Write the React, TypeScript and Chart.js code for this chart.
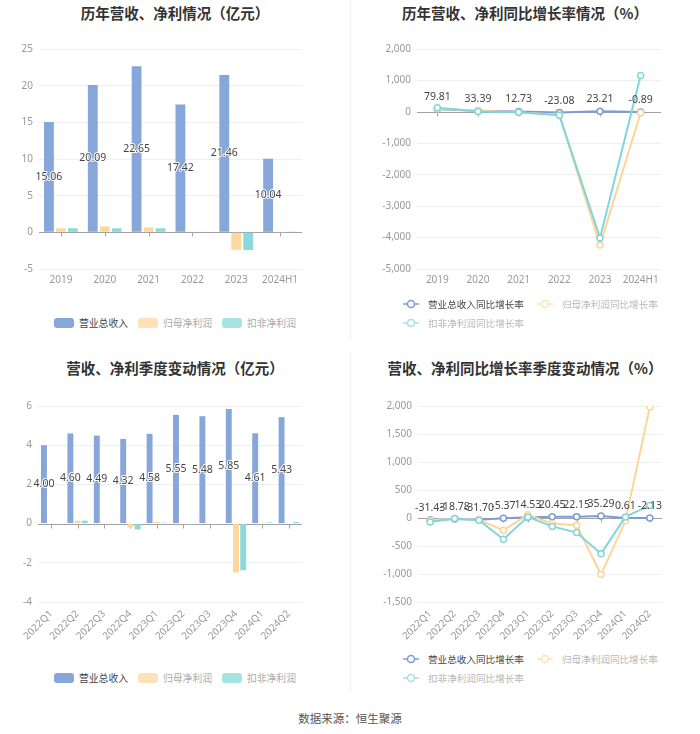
import React, { useEffect, useRef } from 'react';
import { Chart, registerables } from 'chart.js';

Chart.register(...registerables);

// ---------- data ----------
const yearCategories = ['2019', '2020', '2021', '2022', '2023', '2024H1'];
const yearRevenue = [15.06, 20.09, 22.65, 17.42, 21.46, 10.04];
const yearNetProfit = [0.55, 0.8, 0.68, 0.05, -2.37, 0.03];
const yearDeductedProfit = [0.55, 0.55, 0.55, 0.06, -2.42, 0.1];
const yearAmountTicks = [-5, 0, 5, 10, 15, 20, 25];

const yearRevenueGrowth = [79.81, 33.39, 12.73, -23.08, 23.21, -0.89];
const yearNetGrowth = [100, 40, -20, -90, -4240, -30];
const yearDeductedGrowth = [130, 10, -10, -110, -4010, 1160];
const yearGrowthTicks = [-5000, -4000, -3000, -2000, -1000, 0, 1000, 2000];

const quarterCategories = ['2022Q1', '2022Q2', '2022Q3', '2022Q4', '2023Q1', '2023Q2', '2023Q3', '2023Q4', '2024Q1', '2024Q2'];
const quarterRevenue = [4.0, 4.6, 4.49, 4.32, 4.58, 5.55, 5.48, 5.85, 4.61, 5.43];
const quarterNetProfit = [0.03, 0.15, 0.02, -0.2, 0.08, -0.02, -0.02, -2.49, 0.04, 0.02];
const quarterDeductedProfit = [0.03, 0.15, 0.02, -0.3, 0.05, -0.05, -0.03, -2.38, 0.06, 0.08];
const quarterAmountTicks = [-4, -2, 0, 2, 4, 6];

const quarterRevenueGrowth = [-31.43, -18.78, -31.7, -5.37, 14.53, 20.45, 22.15, 35.29, 0.61, -2.13];
const quarterNetGrowth = [-40, -10, -30, -220, 60, -100, -130, -1010, -50, 1980];
const quarterDeductedGrowth = [-70, -10, -40, -380, 20, -150, -260, -640, 20, 225];
const quarterGrowthTicks = [-1500, -1000, -500, 0, 500, 1000, 1500, 2000];

const amountSeriesNames = ['营业总收入', '归母净利润', '扣非净利润'];
const growthSeriesNames = ['营业总收入同比增长率', '归母净利润同比增长率', '扣非净利润同比增长率'];

const titles = [
  '历年营收、净利情况（亿元）',
  '历年营收、净利同比增长率情况（%）',
  '营收、净利季度变动情况（亿元）',
  '营收、净利同比增长率季度变动情况（%）',
];
const footerText = '数据来源：恒生聚源';

// ---------- styles ----------
const FONT = '"Noto Sans", "Noto Sans CJK SC", sans-serif';
const CJK = '"Noto Sans CJK SC", "Noto Sans", sans-serif';
const BAR_COLORS = ['#87A6DA', '#FDD89E', '#89DAD9'];
const LINE_COLORS = ['#7D9CD6', '#FDD49A', '#80D6D8'];

const decorPlugin = {
  id: 'decor',
  beforeDatasetsDraw(chart: any) {
    const { ctx, chartArea, scales } = chart;
    const y0 = Math.round(scales.y.getPixelForValue(0)) + 0.5;
    ctx.save();
    ctx.strokeStyle = '#a3a3a3';
    ctx.lineWidth = 1;
    ctx.beginPath();
    ctx.moveTo(chartArea.left, y0);
    ctx.lineTo(chartArea.right, y0);
    const n = chart.data.labels.length;
    for (let i = 0; i < n; i++) {
      const x = Math.round(scales.x.getPixelForValue(i)) + 0.5;
      ctx.moveTo(x, y0);
      ctx.lineTo(x, y0 + 4);
    }
    ctx.stroke();
    ctx.restore();
  },
  afterDatasetsDraw(chart: any) {
    const opts = chart.options.plugins.decor;
    if (!opts || !opts.mode) return;
    const { ctx } = chart;
    const meta = chart.getDatasetMeta(0);
    const values = chart.data.datasets[0].data as number[];
    const middle = opts.mode === 'middle';
    ctx.save();
    ctx.font = `10.5px ${FONT}`;
    ctx.textAlign = 'center';
    ctx.textBaseline = 'middle';
    ctx.lineJoin = 'round';
    ctx.lineWidth = 2;
    ctx.strokeStyle = '#ffffff';
    ctx.fillStyle = '#444444';
    for (let i = 0; i < values.length; i++) {
      const el = meta.data[i];
      const p = el.getProps(['x', 'y', 'base'], true);
      const y = middle ? (p.y + p.base) / 2 : p.y - 12;
      const text = values[i].toFixed(2);
      if (middle) ctx.strokeText(text, p.x, y);
      ctx.fillText(text, p.x, y);
    }
    ctx.restore();
  },
};

type Geom = { yWidth: number; padRight: number; padTop: number; xHeight: number; rotate: boolean };

function yScale(ticks: number[], geom: Geom) {
  return {
    min: ticks[0],
    max: ticks[ticks.length - 1],
    afterBuildTicks: (s: any) => {
      s.ticks = ticks.map((v) => ({ value: v }));
    },
    afterFit: (s: any) => {
      s.width = geom.yWidth;
    },
    grid: {
      drawTicks: false,
      color: (c: any) => (c.tick && c.tick.value === 0 ? 'rgba(0,0,0,0)' : '#efefef'),
      lineWidth: 1,
    },
    border: { display: false },
    ticks: {
      padding: 6,
      color: '#999999',
      font: { size: 10, family: FONT },
      callback: (v: any) => Number(v).toLocaleString('en-US'),
    },
  };
}

function xScale(geom: Geom) {
  return {
    offset: true,
    afterFit: (s: any) => {
      s.height = geom.xHeight;
    },
    grid: { display: false, drawTicks: false },
    border: { display: false },
    ticks: {
      padding: geom.rotate ? 6 : 5,
      color: '#999999',
      autoSkip: false,
      minRotation: geom.rotate ? 45 : 0,
      maxRotation: geom.rotate ? 45 : 0,
      font: { size: 10, family: FONT },
    },
  };
}

function barConfig(labels: string[], series: number[][], ticks: number[], geom: Geom): any {
  return {
    type: 'bar',
    data: {
      labels,
      datasets: series.map((d, i) => ({
        label: amountSeriesNames[i],
        data: d,
        backgroundColor: BAR_COLORS[i],
        categoryPercentage: 0.82,
        barPercentage: 0.82,
      })),
    },
    options: {
      responsive: false,
      animation: false,
      layout: { padding: { top: geom.padTop, right: geom.padRight, left: 0, bottom: 0 } },
      plugins: { legend: { display: false }, tooltip: { enabled: false }, decor: { mode: 'middle' } },
      scales: { x: xScale(geom), y: yScale(ticks, geom) },
    },
    plugins: [decorPlugin],
  };
}

function lineConfig(labels: string[], series: number[][], ticks: number[], geom: Geom): any {
  return {
    type: 'line',
    data: {
      labels,
      datasets: series.map((d, i) => ({
        label: growthSeriesNames[i],
        data: d,
        borderColor: LINE_COLORS[i],
        backgroundColor: '#ffffff',
        pointBackgroundColor: '#ffffff',
        pointBorderColor: LINE_COLORS[i],
        pointRadius: 3,
        pointBorderWidth: 1.5,
        borderWidth: 2,
        tension: 0,
        order: 3 - i,
      })),
    },
    options: {
      responsive: false,
      animation: false,
      layout: { padding: { top: geom.padTop, right: geom.padRight, left: 0, bottom: 0 } },
      plugins: { legend: { display: false }, tooltip: { enabled: false }, decor: { mode: 'top' } },
      scales: { x: xScale(geom), y: yScale(ticks, geom) },
    },
    plugins: [decorPlugin],
  };
}

function ChartCanvas({ config, left, top }: { config: any; left: number; top: number }) {
  const ref = useRef<HTMLCanvasElement>(null);
  useEffect(() => {
    const chart = new Chart(ref.current as HTMLCanvasElement, config);
    return () => chart.destroy();
  }, []);
  return (
    <canvas
      ref={ref}
      width={350}
      height={270}
      style={{ position: 'absolute', left, top, width: 350, height: 270 }}
    />
  );
}

function Title({ text, left, top }: { text: string; left: number; top: number }) {
  return (
    <div
      style={{
        position: 'absolute',
        left,
        top,
        width: 350,
        textAlign: 'center',
        fontFamily: CJK,
        fontWeight: 'bold',
        fontSize: 14.5,
        lineHeight: '20px',
        color: '#333333',
      }}
    >
      {text}
    </div>
  );
}

function BarLegend({ left, centerY }: { left: number; centerY: number }) {
  return (
    <div
      style={{
        position: 'absolute',
        left,
        top: centerY - 9,
        width: 350,
        height: 18,
        display: 'flex',
        justifyContent: 'center',
        alignItems: 'center',
        fontFamily: CJK,
        fontSize: 9.8,
      }}
    >
      {amountSeriesNames.map((name, i) => (
        <div key={name} style={{ display: 'flex', alignItems: 'center', marginLeft: i ? 10 : 0 }}>
          <span
            style={{
              display: 'inline-block',
              width: 20,
              height: 10,
              borderRadius: 3,
              background: BAR_COLORS[i],
              opacity: i ? 0.75 : 1,
              marginRight: 5,
            }}
          />
          <span style={{ color: i ? '#aaaaaa' : '#444444' }}>{name}</span>
        </div>
      ))}
    </div>
  );
}

function LineLegend({ left, centerY }: { left: number; centerY: number }) {
  return (
    <div
      style={{
        position: 'absolute',
        left,
        top: centerY - 9.5,
        width: 275,
        display: 'flex',
        flexWrap: 'wrap',
        fontFamily: CJK,
        fontSize: 9.6,
      }}
    >
      {growthSeriesNames.map((name, i) => (
        <div
          key={name}
          style={{ display: 'flex', alignItems: 'center', height: 19, marginRight: 13, opacity: i ? 0.7 : 1 }}
        >
          <svg width="16" height="10" style={{ marginRight: 9 }}>
            <line x1="0" y1="5" x2="16" y2="5" stroke={LINE_COLORS[i]} strokeWidth="1.5" />
            <circle cx="8" cy="5" r="3.5" fill="#ffffff" stroke={LINE_COLORS[i]} strokeWidth="1.5" />
          </svg>
          <span style={{ color: i ? '#999999' : '#444444' }}>{name}</span>
        </div>
      ))}
    </div>
  );
}

export default function App() {
  const topBarGeom: Geom = { yWidth: 39, padRight: 48, padTop: 19, xHeight: 31, rotate: false };
  const topLineGeom: Geom = { yWidth: 67, padRight: 39, padTop: 19, xHeight: 31, rotate: false };
  const botBarGeom: Geom = { yWidth: 38, padRight: 48, padTop: 26, xHeight: 48, rotate: true };
  const botLineGeom: Geom = { yWidth: 68, padRight: 38, padTop: 26, xHeight: 48, rotate: true };

  return (
    <div style={{ position: 'absolute', left: 0, top: 0, width: 700, height: 734, background: '#ffffff', overflow: 'hidden' }}>
      <div style={{ position: 'absolute', left: 350, top: 0, width: 1, height: 340, background: '#f3f3f3' }} />
      <div style={{ position: 'absolute', left: 350, top: 352, width: 1, height: 340, background: '#f3f3f3' }} />

      <Title text={titles[0]} left={0} top={3} />
      <Title text={titles[1]} left={350} top={3} />
      <Title text={titles[2]} left={0} top={358} />
      <Title text={titles[3]} left={350} top={358} />

      <ChartCanvas
        left={0}
        top={30}
        config={barConfig(yearCategories, [yearRevenue, yearNetProfit, yearDeductedProfit], yearAmountTicks, topBarGeom)}
      />
      <ChartCanvas
        left={350}
        top={30}
        config={lineConfig(yearCategories, [yearRevenueGrowth, yearNetGrowth, yearDeductedGrowth], yearGrowthTicks, topLineGeom)}
      />
      <ChartCanvas
        left={0}
        top={380}
        config={barConfig(quarterCategories, [quarterRevenue, quarterNetProfit, quarterDeductedProfit], quarterAmountTicks, botBarGeom)}
      />
      <ChartCanvas
        left={350}
        top={380}
        config={lineConfig(quarterCategories, [quarterRevenueGrowth, quarterNetGrowth, quarterDeductedGrowth], quarterGrowthTicks, botLineGeom)}
      />

      <BarLegend left={0} centerY={323} />
      <LineLegend left={403} centerY={304} />
      <BarLegend left={0} centerY={678} />
      <LineLegend left={403} centerY={659} />

      <div
        style={{
          position: 'absolute',
          left: 0,
          top: 709,
          width: 700,
          textAlign: 'center',
          fontFamily: CJK,
          fontSize: 11.5,
          lineHeight: '18px',
          color: '#555555',
        }}
      >
        {footerText}
      </div>
    </div>
  );
}
